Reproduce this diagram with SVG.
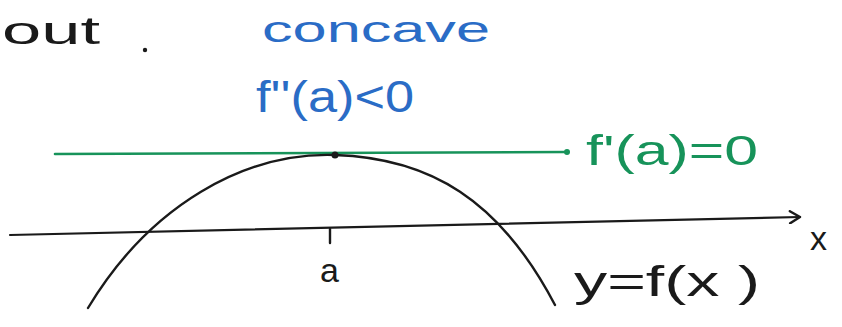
<svg xmlns="http://www.w3.org/2000/svg" width="842" height="327" viewBox="0 0 842 327">
<style>
.hand{font-family:"Liberation Sans",Arial,sans-serif;}
.blk{fill:#1a1a1a;}
.blue{fill:#2a6cc6;}
.green{fill:#17935a;}
.ln{fill:none;stroke-linecap:round;stroke-linejoin:round;}
</style>
<defs>
<marker id="arr" markerWidth="14" markerHeight="14" refX="12" refY="7" orient="auto" markerUnits="userSpaceOnUse">
<path d="M2,1 L12,7 L2,13" fill="none" stroke="#1a1a1a" stroke-width="2.5" stroke-linecap="round" stroke-linejoin="round"/>
</marker>
</defs>
<rect width="842" height="327" fill="#ffffff"/>
<g id="top-text">
<text class="hand blk" x="2" y="44" font-size="38" textLength="98" lengthAdjust="spacingAndGlyphs">out</text>
<circle cx="145" cy="50" r="2.2" fill="#1a1a1a"/>
</g>
<g id="connectors">
<path id="x-axis" class="ln" d="M10,235 L800,217" stroke="#1a1a1a" stroke-width="2.2" marker-end="url(#arr)"/>
<path id="tangent" class="ln" d="M55,154 L567,152" stroke="#17935a" stroke-width="2.6"/>
<circle cx="567" cy="152" r="3" fill="#17935a"/>
<path id="curve" class="ln" d="M88,308 C150,205 245,152 335,155 C430,158 500,200 555,305" stroke="#1a1a1a" stroke-width="2.4"/>
<circle cx="335" cy="155" r="3.5" fill="#1a1a1a"/>
<path id="tick" class="ln" d="M330,229 L330,243" stroke="#1a1a1a" stroke-width="2.4"/>
</g>
<g id="label-concave">
<text class="hand blue" x="262" y="42" font-size="36" textLength="228" lengthAdjust="spacingAndGlyphs">concave</text>
<text class="hand blue" x="256" y="112" font-size="44" textLength="158" lengthAdjust="spacingAndGlyphs">f''(a)&lt;0</text>
</g>
<g id="label-tangent">
<text class="hand green" x="586" y="165" font-size="42" textLength="172" lengthAdjust="spacingAndGlyphs">f'(a)=0</text>
</g>
<g id="label-a">
<text class="hand blk" x="320" y="282" font-size="34">a</text>
</g>
<g id="label-x">
<text class="hand blk" x="810" y="250" font-size="34">x</text>
</g>
<g id="label-curve">
<text class="hand blk" x="574" y="296" font-size="42" textLength="186" lengthAdjust="spacingAndGlyphs">y=f(x )</text>
</g>
</svg>
